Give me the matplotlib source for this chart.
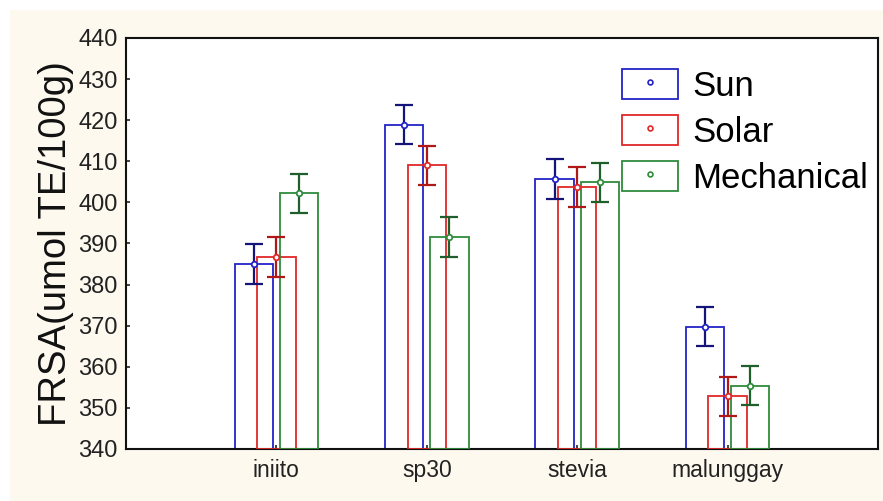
import numpy as np
import matplotlib
matplotlib.use("Agg")
import matplotlib.pyplot as plt
from matplotlib.patches import Rectangle
from matplotlib.lines import Line2D

plt.rcParams['font.family'] = ['Liberation Sans', 'DejaVu Sans']

# --- data ---
categories = ["iniito", "sp30", "stevia", "malunggay"]
series_names = ["Sun", "Solar", "Mechanical"]
sun = [385.0, 418.9, 405.7, 369.8]
solar = [386.7, 409.0, 403.8, 352.8]
mechanical = [402.2, 391.6, 404.9, 355.4]
sun_err = [4.8, 4.8, 4.8, 4.8]
solar_err = [4.8, 4.8, 4.8, 4.8]
mechanical_err = [4.8, 4.8, 4.8, 4.8]
y_ticks = [340, 350, 360, 370, 380, 390, 400, 410, 420, 430, 440]

values = [sun, solar, mechanical]
errors = [sun_err, solar_err, mechanical_err]
bar_colors = ["#2323c8", "#e02828", "#2e8b3c"]
err_colors = ["#14147a", "#b01818", "#1f5f2c"]
offsets = [-0.15, 0.0, 0.15]
bar_width = 0.255
base = 340

fig = plt.figure(figsize=(8.83, 5.01), dpi=100, facecolor="white")
# cream panel behind the chart
fig.patches.append(Rectangle((10 / 883, 0), 1, 491 / 501, transform=fig.transFigure,
                             facecolor="#fdf9ef", edgecolor="none", zorder=-10))

ax = fig.add_axes([126 / 883, 52 / 501, 752 / 883, 411 / 501])
ax.set_facecolor("white")

x = np.arange(len(categories))
for k in range(3):
    xs = x + offsets[k]
    ax.bar(xs, np.array(values[k]) - base, bottom=base, width=bar_width, fill=False,
           edgecolor=bar_colors[k], linewidth=1.3, zorder=2 + k)
    ax.errorbar(xs, values[k], yerr=errors[k], fmt="none", ecolor=err_colors[k],
                elinewidth=1.6, capsize=6.5, capthick=1.6, zorder=6)
    ax.plot(xs, values[k], "o", ms=4, mfc="white", mec=bar_colors[k], mew=1.3, zorder=7)

ax.set_xlim(-1.0, 4.0)
ax.set_ylim(340, 440)
ax.set_xticks(x)
ax.set_xticklabels(categories, fontsize=16.5, color="#222222")
ax.set_yticks(y_ticks)
ax.set_yticklabels([str(t) for t in y_ticks], fontsize=17, color="#222222")
ax.tick_params(direction="in", length=3, width=1.2, colors="#222222")
ax.tick_params(axis="x", pad=7)
ax.tick_params(axis="y", pad=6)
for s in ax.spines.values():
    s.set_linewidth(1.5)
    s.set_color("#111111")

ax.set_ylabel("FRSA(umol TE/100g)", fontsize=27.5, color="#111111", labelpad=3)

# legend: open boxes with a small marker inside
handles = []
for k in range(3):
    box = Rectangle((0, 0), 1, 1, facecolor="white", edgecolor=bar_colors[k], linewidth=1.3)
    mk = Line2D([], [], linestyle="none", marker="o", ms=3.5, mfc="white",
                mec=bar_colors[k], mew=1.2)
    handles.append((box, mk))
ax.legend(handles, series_names, loc="upper left", bbox_to_anchor=(0.66, 0.925),
          frameon=False, fontsize=25, handlelength=1.6, handleheight=0.95,
          labelspacing=0.35, handletextpad=0.42, borderaxespad=0, borderpad=0)

fig.savefig("out.png", dpi=100, facecolor=fig.get_facecolor())
